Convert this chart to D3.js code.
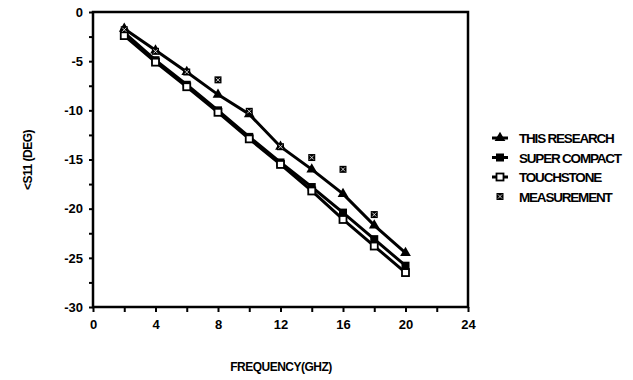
<!DOCTYPE html>
<html>
<head>
<meta charset="utf-8">
<script src="https://cdn.jsdelivr.net/npm/d3@7"></script>
<style>
  body { margin: 0; background: #fff; }
  text { font-family: "Liberation Sans", Arial, sans-serif; font-weight: bold; fill: #000; }
</style>
</head>
<body>
<svg id="chart" width="633" height="380"></svg>
<script>
var freq = [2, 4, 6, 8, 10, 12, 14, 16, 18, 20];
var thisResearch = [-1.7, -3.9, -6.1, -8.4, -10.4, -13.7, -16.0, -18.5, -21.7, -24.5];
var superCompact = [-2.1, -4.9, -7.4, -10.0, -12.7, -15.3, -17.8, -20.4, -23.1, -25.8];
var touchstone = [-2.4, -5.1, -7.6, -10.2, -12.9, -15.5, -18.2, -21.1, -23.8, -26.5];
var measFreq = [2, 4, 6, 8, 10, 12, 14, 16, 18];
var measurement = [-1.8, -4.0, -6.1, -6.9, -10.1, -13.7, -14.8, -16.0, -20.6];
var xTicks = [0, 4, 8, 12, 16, 20, 24];
var yTicks = [0, -5, -10, -15, -20, -25, -30];
var legendNames = ["THIS RESEARCH", "SUPER COMPACT", "TOUCHSTONE", "MEASUREMENT"];

var svg = d3.select("#chart");
var x = d3.scaleLinear().domain([0, 24]).range([93, 468]);
var y = d3.scaleLinear().domain([0, -30]).range([12, 307]);

// frame
svg.append("rect")
  .attr("x", 93).attr("y", 12)
  .attr("width", 375).attr("height", 295)
  .style("fill", "none").style("stroke", "#000").style("stroke-width", 2.5);

// axes
var xAxis = svg.append("g").attr("transform", "translate(0,307)")
  .call(d3.axisBottom(x).tickValues(d3.range(0, 25, 2)).tickSize(5)
    .tickFormat(function(d) { return xTicks.indexOf(d) >= 0 ? d : ""; }));
var yAxis = svg.append("g").attr("transform", "translate(93,0)")
  .call(d3.axisLeft(y).tickValues(d3.range(0, -30.1, -2.5)).tickSize(4)
    .tickFormat(function(d) { return yTicks.indexOf(d) >= 0 ? d : ""; }));
svg.selectAll(".domain").remove();
svg.selectAll(".tick line").style("stroke", "#000").style("stroke-width", 2);
xAxis.selectAll("text").style("font-size", "13px").attr("dy", "1.1em");
yAxis.selectAll("text").style("font-size", "13px").attr("x", -10);

svg.append("text").attr("x", 281).attr("y", 371)
  .attr("text-anchor", "middle").style("font-size", "12px").style("letter-spacing", "-0.5px")
  .text("FREQUENCY(GHZ)");
svg.append("text").attr("transform", "translate(32,160) rotate(-90)")
  .attr("text-anchor", "middle").style("font-size", "12px").style("letter-spacing", "-0.5px")
  .text("<S11 (DEG)");

var line = d3.line().x(function(d) { return x(d[0]); }).y(function(d) { return y(d[1]); });

function drawMarker(g, kind, cx, cy) {
  if (kind == "tri") {
    g.append("path").attr("d", d3.symbol().type(d3.symbolTriangle).size(50)())
      .attr("transform", "translate(" + cx + "," + cy + ")").style("fill", "#000");
  } else if (kind == "sq") {
    g.append("rect").attr("x", cx - 4).attr("y", cy - 4).attr("width", 8).attr("height", 8)
      .style("fill", "#000");
  } else if (kind == "open") {
    g.append("rect").attr("x", cx - 3.5).attr("y", cy - 3.5).attr("width", 7).attr("height", 7)
      .style("fill", "#fff").style("stroke", "#000").style("stroke-width", 1.8);
  } else {
    g.append("rect").attr("x", cx - 3.5).attr("y", cy - 3.5).attr("width", 7).attr("height", 7)
      .style("fill", "#000");
    g.append("path").attr("d", "M" + (cx - 2) + "," + (cy - 2) + "L" + (cx + 2) + "," + (cy + 2) +
      "M" + (cx + 2) + "," + (cy - 2) + "L" + (cx - 2) + "," + (cy + 2))
      .style("stroke", "#fff").style("stroke-width", 0.8);
  }
}

var series = [
  { vals: thisResearch, kind: "tri" },
  { vals: superCompact, kind: "sq" },
  { vals: touchstone, kind: "open" }
];

var marks = svg.append("g");
series.forEach(function(s) {
  var pts = freq.map(function(f, i) { return [f, s.vals[i]]; });
  marks.append("path").datum(pts).attr("d", line)
    .style("fill", "none").style("stroke", "#000").style("stroke-width", 3);
});
series.forEach(function(s) {
  freq.forEach(function(f, i) { drawMarker(marks, s.kind, x(f), y(s.vals[i])); });
});
measFreq.forEach(function(f, i) { drawMarker(marks, "meas", x(f), y(measurement[i])); });

// legend
var kinds = ["tri", "sq", "open", "meas"];
var legend = svg.append("g");
legendNames.forEach(function(name, i) {
  var ly = 138 + i * 19.5;
  if (kinds[i] != "meas") {
    legend.append("line").attr("x1", 492).attr("x2", 508).attr("y1", ly).attr("y2", ly)
      .style("stroke", "#000").style("stroke-width", 3);
  }
  drawMarker(legend, kinds[i], 500, ly);
  legend.append("text").attr("x", 519).attr("y", ly + 5)
    .style("font-size", "13.5px").style("letter-spacing", "-1.2px").text(name);
});
</script>
</body>
</html>
